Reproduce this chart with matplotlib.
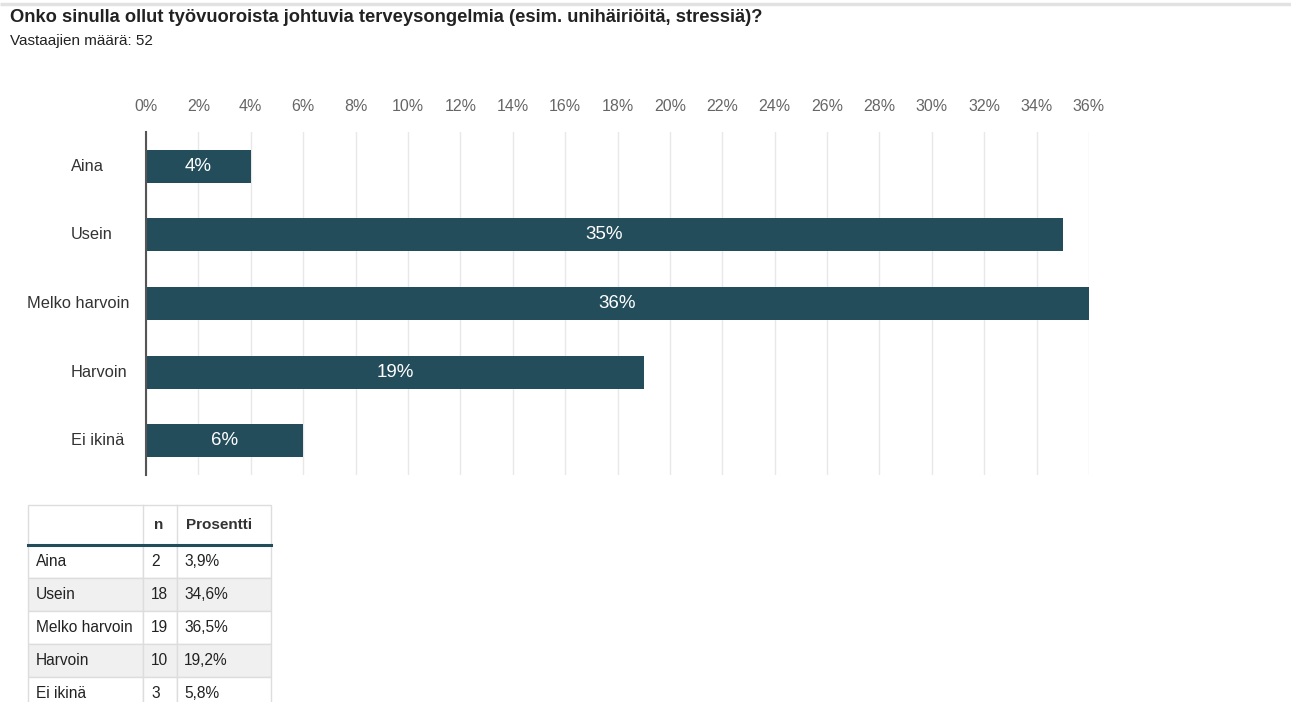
import matplotlib.pyplot as plt
from matplotlib.patches import Rectangle

plt.rcParams['font.family'] = ['Liberation Sans', 'DejaVu Sans']

title = 'Onko sinulla ollut työvuoroista johtuvia terveysongelmia (esim. unihäiriöitä, stressiä)?'
subtitle = 'Vastaajien määrä: 52'
categories = ['Aina', 'Usein', 'Melko harvoin', 'Harvoin', 'Ei ikinä']
counts = [2, 18, 19, 10, 3]
percents = [3.9, 34.6, 36.5, 19.2, 5.8]
rounded = [4, 35, 36, 19, 6]
ticks = list(range(0, 37, 2))

W, H = 1291, 702
bar_color = '#234d5b'

fig = plt.figure(figsize=(W / 100, H / 100), dpi=100)

# page overlay in pixel coordinates (title, table, top rule)
page = fig.add_axes([0, 0, 1, 1], zorder=0)
page.set_xlim(0, W)
page.set_ylim(H, 0)
page.axis('off')
page.plot([0, W], [4, 4], color='#e2e2e2', lw=2.5, solid_capstyle='butt')
page.text(10, 18, title, fontsize=13.2, fontweight='bold', color='#222222', va='center')
page.text(10, 41, subtitle, fontsize=11, color='#222222', va='center')

# bar chart
ax = fig.add_axes([146 / W, 1 - 475 / H, (1089 - 146) / W, (475 - 132) / H], zorder=1)
ypos = list(range(len(categories)))
ax.barh(ypos, rounded, height=0.48, color=bar_color, zorder=3)
for y, v in zip(ypos, rounded):
    ax.text(v / 2, y, f'{v}%', color='white', fontsize=13.5, ha='center', va='center', zorder=4)
ax.set_xlim(0, 36)
ax.set_ylim(4.5, -0.5)
ax.xaxis.tick_top()
ax.set_xticks(ticks)
ax.set_xticklabels([f'{t}%' for t in ticks], fontsize=11.5, color='#666666')
ax.tick_params(axis='x', length=0, pad=13)
ax.set_yticks([])
ax.grid(axis='x', color='#e8e8e8', lw=1, zorder=0)
for s in ['top', 'right', 'bottom']:
    ax.spines[s].set_visible(False)
ax.spines['left'].set_color('#555555')
ax.spines['left'].set_linewidth(1.5)
ax.spines['left'].set_zorder(5)

# category labels
for y, c in zip(ypos, categories):
    if len(c) > 10:
        ax.text(-16.5 / 26.2, y, c, fontsize=11.8, color='#333333', ha='right', va='center',
                transform=ax.transData)
    else:
        ax.text(-75 / 26.2, y, c, fontsize=11.8, color='#333333', ha='left', va='center',
                transform=ax.transData)

# summary table
cols = [28, 143, 177, 271]
top, head_h, row_h = 505, 40, 33
grid_c = '#dddddd'
page.add_patch(Rectangle((cols[0], top), cols[-1] - cols[0], head_h, fill=False,
                         edgecolor=grid_c, lw=1))
page.text(cols[1] + 11, top + head_h / 2, 'n', fontsize=11, fontweight='bold',
          color='#333333', va='center')
page.text(cols[2] + 9, top + head_h / 2, 'Prosentti', fontsize=11, fontweight='bold',
          color='#333333', va='center')
for i, (c, n, p) in enumerate(zip(categories, counts, percents)):
    y0 = top + head_h + i * row_h
    fc = '#f0f0f0' if i % 2 == 1 else 'white'
    for a, b in zip(cols[:-1], cols[1:]):
        page.add_patch(Rectangle((a, y0), b - a, row_h, facecolor=fc, edgecolor=grid_c, lw=1))
    yc = y0 + row_h / 2
    page.text(cols[0] + 8, yc, c, fontsize=11.2, color='#222222', va='center')
    page.text(cols[1] + 8, yc, str(n), fontsize=11.2, color='#222222', va='center')
    page.text(cols[2] + 7, yc, f'{p:.1f}%'.replace('.', ','), fontsize=11.2,
              color='#222222', va='center')
for a in cols[1:-1]:
    page.plot([a, a], [top, top + head_h], color=grid_c, lw=1)
page.plot([cols[0], cols[-1]], [top + head_h, top + head_h], color=bar_color, lw=2.2)

fig.savefig('out.png', dpi=100)
